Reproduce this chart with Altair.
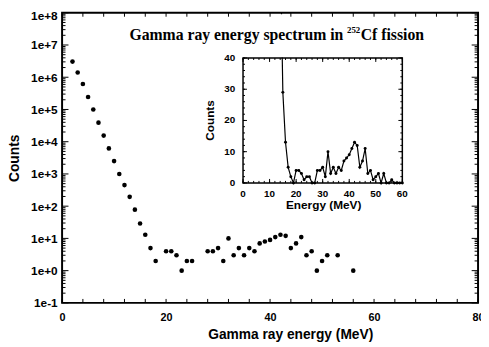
import altair as alt
import pandas as pd

# ---- data ----
energy = list(range(2, 61))
counts = [3.06e6, 1.41e6, 6.2e5, 2.45e5, 1.0e5, 3.9e4, 1.55e4, 6.2e3, 2.5e3, 1.0e3,
          450, 195, 78, 29, 13, 5, 2, 0, 4, 4,
          3, 1, 2, 2, 0, 0, 4, 4, 5, 2,
          10, 3, 5, 3, 5, 4, 7, 8, 9, 11,
          13, 12, 5, 7, 11, 3, 4, 1, 2, 3,
          0, 3, 0, 0, 1, 0, 0, 0, 0]

x_major = [0, 20, 40, 60, 80]
x_minor = list(range(0, 81, 4))
y_major = [0.1, 1, 10, 100, 1e3, 1e4, 1e5, 1e6, 1e7, 1e8]
y_minor = [m * d for d in y_major[:-1] for m in range(2, 10)]

inset_x_labels = [0, 10, 20, 30, 40, 50, 60]
inset_y_labels = [0, 10, 20, 30, 40]
inset_x_minor = list(range(0, 61, 2))
inset_y_minor = list(range(0, 41, 2))
inset_box = {"x0": [0], "x1": [60], "y0": [0], "y1": [40]}
inset_x_title = "Energy (MeV)"
inset_y_title = "Counts"

title_main = "Gamma ray energy spectrum in"
title_sup = "252"
title_tail = "Cf fission"

# ---- layout constants ----
W, H = 423, 295
IX0, IX1, IY0, IY1 = 184, 346, 173, 46
SANS = "Liberation Sans"
SERIF = "Liberation Serif"

df = pd.DataFrame({"energy": energy, "counts": counts})
df_main = df[df["counts"] > 0]

xs = alt.Scale(domain=[0, 80], nice=False, zero=False)
ys = alt.Scale(type="log", domain=[0.1, 1e8], nice=False)
ixs = alt.Scale(domain=[0, 60], range=[IX0, IX1], nice=False, zero=False)
iys = alt.Scale(domain=[0, 40], range=[IY0, IY1], nice=False, zero=False)

x_axis = alt.Axis(values=x_major, title="Gamma ray energy (MeV)", grid=False,
                  ticks=False, tickSize=0, domain=False, labelFlush=False,
                  labelFontSize=11, labelPadding=9, titleFontSize=14,
                  titlePadding=5, titleX=232)
y_axis = alt.Axis(values=y_major, title="Counts", grid=False, ticks=False,
                  tickSize=0, domain=False, labelOverlap=False,
                  labelExpr="'1e' + (datum.value >= 1 ? '+' : '-') + abs(round(log(datum.value)/LN10))",
                  labelOffset={"condition": {"test": "datum.value >= 1e8", "value": 2.5}, "value": 0},
                  labelFontSize=12, labelPadding=5, titleFontSize=14, titlePadding=9)

main_pts = alt.Chart(df_main).mark_circle(size=22, color="black", opacity=1).encode(
    x=alt.X("energy:Q", scale=xs, axis=x_axis),
    y=alt.Y("counts:Q", scale=ys, axis=y_axis),
)
main = alt.layer(main_pts)

# ---- inset ----
inset_src = alt.Chart(df).transform_filter("datum.energy >= 14")
inset_line = inset_src.mark_line(color="black", strokeWidth=1.2, clip=True).encode(
    x=alt.X("energy:Q", scale=ixs, axis=None),
    y=alt.Y("counts:Q", scale=iys, axis=None),
)
inset_pts = inset_src.mark_circle(size=9, color="black", opacity=1, clip=True).encode(
    x=alt.X("energy:Q", scale=ixs, axis=None),
    y=alt.Y("counts:Q", scale=iys, axis=None),
)
mask = alt.Chart(pd.DataFrame({"a": [0]})).mark_rect(color="white").encode(
    x=alt.value(IX0 - 1), x2=alt.value(IX1 + 1), y=alt.value(1.5), y2=alt.value(IY1 - 0.5)
)
frame = alt.Chart(pd.DataFrame(inset_box)).mark_rect(
    fillOpacity=0, stroke="black", strokeWidth=1.5).encode(
    x=alt.X("x0:Q", scale=ixs, axis=None), x2="x1:Q",
    y=alt.Y("y0:Q", scale=iys, axis=None), y2="y1:Q",
)

def ix_ticks(vals, length):
    d = alt.Chart(pd.DataFrame({"v": vals}))
    xe = alt.X("v:Q", scale=ixs, axis=None)
    b = d.mark_rule(color="black", strokeWidth=1).encode(x=xe, y=alt.value(IY0), y2=alt.value(IY0 - length))
    t = d.mark_rule(color="black", strokeWidth=1).encode(x=xe, y=alt.value(IY1), y2=alt.value(IY1 + length))
    return [b, t]

def iy_ticks(vals, length):
    d = alt.Chart(pd.DataFrame({"v": vals}))
    ye = alt.Y("v:Q", scale=iys, axis=None)
    l = d.mark_rule(color="black", strokeWidth=1).encode(y=ye, x=alt.value(IX0), x2=alt.value(IX0 + length))
    r = d.mark_rule(color="black", strokeWidth=1).encode(y=ye, x=alt.value(IX1), x2=alt.value(IX1 - length))
    return [l, r]

lab_style = dict(font=SANS, fontWeight="bold", color="black")
ix_labels = alt.Chart(pd.DataFrame({"v": inset_x_labels})).mark_text(
    fontSize=10, align="center", baseline="alphabetic", **lab_style).encode(
    x=alt.X("v:Q", scale=ixs, axis=None), y=alt.value(IY0 + 14), text="v:Q")
iy_labels = alt.Chart(pd.DataFrame({"v": inset_y_labels})).mark_text(
    fontSize=10, align="right", baseline="middle", **lab_style).encode(
    y=alt.Y("v:Q", scale=iys, axis=None), x=alt.value(IX0 - 8), text="v:Q")
ix_title = alt.Chart(pd.DataFrame({"t": [inset_x_title]})).mark_text(
    fontSize=12, align="center", baseline="alphabetic", **lab_style).encode(
    x=alt.value((IX0 + IX1) / 2 + 1), y=alt.value(IY0 + 27), text="t:N")
iy_title = alt.Chart(pd.DataFrame({"t": [inset_y_title]})).mark_text(
    fontSize=12, align="center", baseline="middle", angle=270, **lab_style).encode(
    x=alt.value(IX0 - 34), y=alt.value((IY0 + IY1) / 2), text="t:N")

inset = alt.layer(
    inset_line, inset_pts, mask, frame,
    *ix_ticks(inset_x_minor, 2), *ix_ticks(inset_x_labels, 4),
    *iy_ticks(inset_y_minor, 2), *iy_ticks(inset_y_labels, 4),
    ix_labels, iy_labels, ix_title, iy_title,
)

# ---- main ticks (inward) and title ----
def mx_ticks(vals, length):
    d = alt.Chart(pd.DataFrame({"v": vals}))
    xe = alt.X("v:Q", scale=xs, axis=None)
    b = d.mark_rule(color="black", strokeWidth=1).encode(x=xe, y=alt.value(H), y2=alt.value(H - length))
    t = d.mark_rule(color="black", strokeWidth=1).encode(x=xe, y=alt.value(0), y2=alt.value(length))
    return [b, t]

def my_ticks(vals, length):
    d = alt.Chart(pd.DataFrame({"v": vals}))
    ye = alt.Y("v:Q", scale=ys, axis=None)
    l = d.mark_rule(color="black", strokeWidth=1).encode(y=ye, x=alt.value(0), x2=alt.value(length))
    r = d.mark_rule(color="black", strokeWidth=1).encode(y=ye, x=alt.value(W), x2=alt.value(W - length))
    return [l, r]

def txt(s, x, y, size, align):
    return alt.Chart(pd.DataFrame({"t": [s]})).mark_text(
        font=SERIF, fontWeight="bold", fontSize=size, align=align,
        baseline="alphabetic", color="black").encode(
        x=alt.value(x), y=alt.value(y), text="t:N")

overlay = alt.layer(
    *mx_ticks(x_minor, 4),
    *my_ticks(y_minor, 3.5), *my_ticks(y_major, 6.5),
    txt(title_main, 286, 28, 16, "right"),
    txt(title_sup, 289.7, 21, 9, "left"),
    txt(title_tail, 303.7, 28, 16, "left"),
)

chart = alt.layer(main, inset, overlay).resolve_scale(
    x="independent", y="independent"
).properties(
    width=W, height=H,
    autosize=alt.AutoSizeParams(type="none"),
    padding={"left": 55, "top": 2, "right": 3, "bottom": 41},
).configure_view(
    stroke="black", strokeWidth=2
).configure_axis(
    labelColor="black", titleColor="black", labelFont=SANS, titleFont=SANS,
    labelFontWeight="bold", titleFontWeight="bold"
)

chart.save("out.html", embed_options={"renderer": "svg", "actions": False})
